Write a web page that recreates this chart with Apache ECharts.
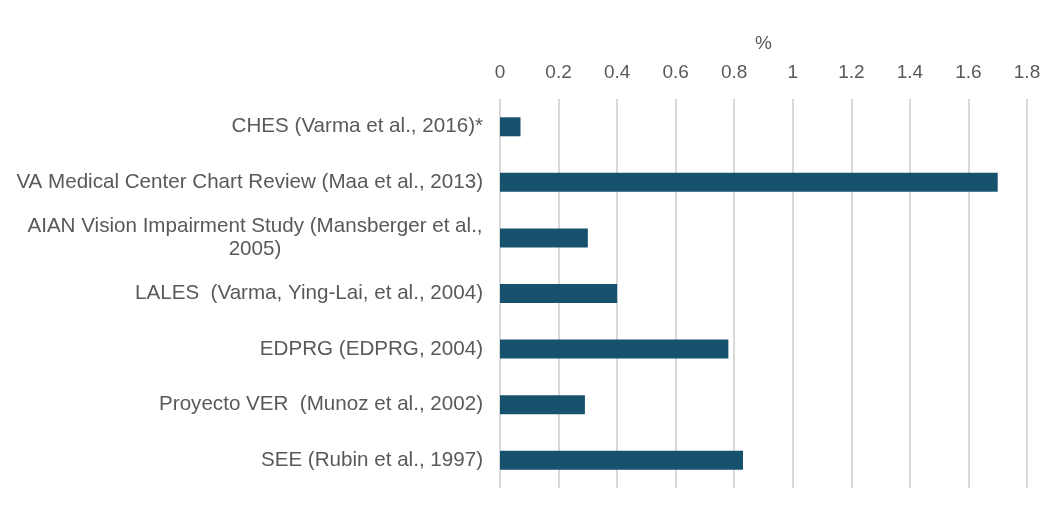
<!DOCTYPE html>
<html>
<head>
<meta charset="utf-8">
<script src="https://cdn.jsdelivr.net/npm/echarts@6/dist/echarts.min.js"></script>
<style>
html,body{margin:0;padding:0;background:#fff;}
#chart{width:1064px;height:512px;}
</style>
</head>
<body>
<div id="chart"></div>
<script>
const categories = [
  'CHES (Varma et al., 2016)*',
  'VA Medical Center Chart Review (Maa et al., 2013)',
  'AIAN Vision Impairment Study (Mansberger et al.,\n2005)',
  'LALES  (Varma, Ying-Lai, et al., 2004)',
  'EDPRG (EDPRG, 2004)',
  'Proyecto VER  (Munoz et al., 2002)',
  'SEE (Rubin et al., 1997)'
];
const values = [0.07, 1.7, 0.3, 0.4, 0.78, 0.29, 0.83];
const axisName = '%';

const labelFont = '20.6px "Liberation Sans"';
const ctx = document.createElement('canvas').getContext('2d');
ctx.font = labelFont;
function textW(s) { return Math.ceil(ctx.measureText(s).width); }

const chart = echarts.init(document.getElementById('chart'));
chart.setOption({
  animation: false,
  grid: {left: 500, right: 37, top: 99, bottom: 24, containLabel: false},
  xAxis: {
    type: 'value',
    position: 'top',
    min: 0, max: 1.8, interval: 0.2,
    name: axisName,
    nameLocation: 'middle',
    nameGap: 46,
    nameTextStyle: {color: '#595959', fontSize: 19, fontFamily: 'Liberation Sans'},
    axisLine: {show: false},
    axisTick: {show: false},
    axisLabel: {color: '#595959', fontSize: 19, fontFamily: 'Liberation Sans', margin: 17,
      formatter: v => String(Math.round(v * 10) / 10)},
    splitLine: {show: true, lineStyle: {color: '#d9d9d9', width: 2}}
  },
  yAxis: {
    type: 'category',
    inverse: true,
    data: categories,
    axisLine: {show: false},
    axisTick: {show: false},
    axisLabel: {
      margin: 17,
      color: '#595959', fontSize: 20.6, fontFamily: 'Liberation Sans', lineHeight: 23.5,
      formatter: function (v) {
        const lines = v.split('\n');
        if (lines.length === 1) return v;
        const w = Math.max.apply(null, lines.map(textW));
        return lines.map(s => '{c' + w + '|' + s + '}').join('\n');
      },
      rich: (function () {
        const r = {};
        categories.forEach(v => {
          const lines = v.split('\n');
          if (lines.length > 1) {
            const w = Math.max.apply(null, lines.map(textW));
            r['c' + w] = {width: w, align: 'center', color: '#595959', fontSize: 20.6, fontFamily: 'Liberation Sans', lineHeight: 23.5};
          }
        });
        return r;
      })()
    }
  },
  series: [{
    type: 'bar',
    data: values,
    barWidth: 19,
    itemStyle: {color: '#16526E'}
  }]
});
</script>
</body>
</html>
